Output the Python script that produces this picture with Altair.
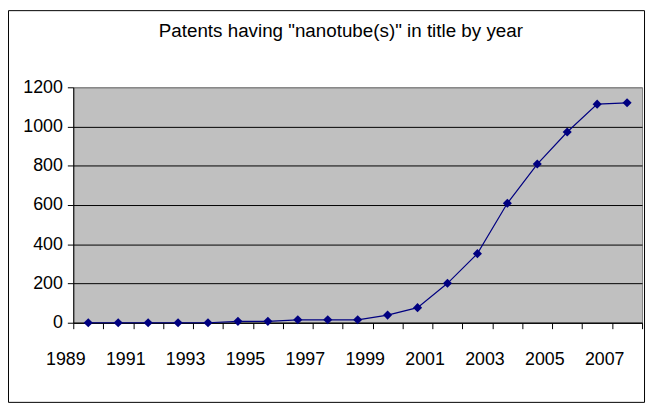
import json
import altair as alt
import pandas as pd

# ---- data ----
years = [1989, 1990, 1991, 1992, 1993, 1994, 1995, 1996, 1997, 1998,
         1999, 2000, 2001, 2002, 2003, 2004, 2005, 2006, 2007]
patents = [0, 0, 0, 0, 0, 7, 7, 15, 15, 15,
           39, 77, 201, 352, 609, 809, 972, 1114, 1121]
x_tick_labels = ["1989", "1991", "1993", "1995", "1997",
                 "1999", "2001", "2003", "2005", "2007"]
y_ticks = [0, 200, 400, 600, 800, 1000, 1200]
title_text = 'Patents having "nanotube(s)" in title by year'

FONT = "Liberation Sans"
NAVY = "#000080"

df = pd.DataFrame({"year": years, "patents": patents})

x_scale = alt.Scale(domain=[years[0], years[-1] + 1], nice=False, zero=False)
y_scale = alt.Scale(domain=[0, 1200], nice=False)

label_expr = (
    f"indexof({json.dumps(x_tick_labels)}, toString(datum.value)) >= 0 "
    f"? toString(datum.value) : ''"
)

x_axis = alt.Axis(
    values=list(range(years[0], years[-1] + 2)),
    labelExpr=label_expr,
    title=None,
    grid=False,
    tickSize=6,
    labelOffset=-8,
    labelPadding=22,
    labelOverlap=False,
    labelFlush=False,
)
y_axis = alt.Axis(
    values=y_ticks,
    title=None,
    grid=True,
    gridColor=alt.condition("datum.value == 1200", alt.value("#808080"), alt.value("black")),
    tickSize=6,
    labelPadding=5,
    labelOverlap=False,
    labelFlush=False,
    format="d",
)

base = alt.Chart(df).transform_calculate(xc="datum.year + 0.5").encode(
    x=alt.X("xc:Q", scale=x_scale, axis=x_axis),
    y=alt.Y("patents:Q", scale=y_scale, axis=y_axis),
)

line = base.mark_line(color=NAVY, strokeWidth=1.2)
points = base.mark_point(shape="diamond", filled=True, color=NAVY, size=85, opacity=1)

one = pd.DataFrame({"t": [title_text]})
title = alt.Chart(one).mark_text(
    font=FONT, fontSize=19, color="black", align="center", baseline="alphabetic"
).encode(text="t:N", x=alt.value(270.5), y=alt.value(-51))

frame = alt.Chart(one).mark_rect(
    fill="transparent", stroke="black", strokeWidth=1
).encode(x=alt.value(-65.5), x2=alt.value(577.5), y=alt.value(-77.5), y2=alt.value(318.5))

chart = (
    alt.layer(frame, title, line, points)
    .properties(
        width=575,
        height=238,
        autosize=alt.AutoSizeParams(type="none"),
        padding={"left": 66, "top": 78, "right": 5, "bottom": 82},
        background="white",
    )
    .configure_view(fill="#C0C0C0", stroke="#808080", strokeWidth=1)
    .configure_axis(
        labelFont=FONT,
        labelFontSize=18,
        labelColor="black",
        domainColor="black",
        domainWidth=1,
        tickColor="black",
        tickWidth=1,
        gridWidth=1,
    )
)

chart.save("out.html", embed_options={"renderer": "svg", "actions": False})
